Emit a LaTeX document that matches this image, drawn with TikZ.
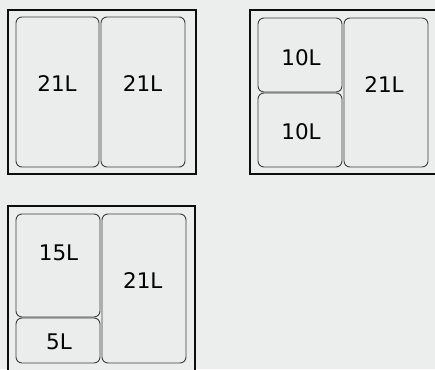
\documentclass[tikz,border=0pt]{standalone}
\usepackage{fontspec}
\setmainfont{DejaVu Sans}
\usepackage{xcolor}
\usetikzlibrary{positioning}

\definecolor{bgcol}{HTML}{ECEEED}
\definecolor{bincol}{HTML}{EBEDEC}
\definecolor{edgecol}{HTML}{3C3C3C}

\begin{document}
\begin{tikzpicture}[ x = 1pt, y = -1pt
                     , frame/.style = { draw = black!95
                                      , line width = 2.6pt
                                      , fill = bgcol }
                     , bin/.style = { draw = edgecol
                                    , line width = 0.9pt
                                    , rounded corners = 6pt
                                    , fill = bincol }
                     , every node/.style = { inner sep = 0pt
                                           , font = \fontsize{21.5}{21.5}\selectfont }
                     ]

  \fill[bgcol] (0,0) rectangle (435,369);
  \useasboundingbox (0,0) rectangle (435,369);
  \clip (0,0) rectangle (435,369);

  % two 21L bins
  \draw[frame] (8,10) rectangle (196,174);
  \draw[bin] (16,17) rectangle (99,167);
  \draw[bin] (101,17) rectangle (185,167);
  \node (a1) at (57,84) {21L};
  \node (a2) at (142.5,84) {21L};

  % 10L + 10L + 21L
  \draw[frame] (250,10) rectangle (445,174);
  \draw[bin] (258,18) rectangle (342,92);
  \draw[bin] (258,93) rectangle (342,167);
  \draw[bin] (344,18) rectangle (428,167);
  \node (b1) at (301,57.5) {10L};
  \node (b2) at (301,131.5) {10L};
  \node (b3) at (384,84.5) {21L};

  % 15L + 5L + 21L
  \draw[frame] (8,206) rectangle (195,380);
  \draw[bin] (16,214) rectangle (100,317);
  \draw[bin] (16,318) rectangle (100,363);
  \draw[bin] (102,214) rectangle (186,363);
  \node (c1) at (58.5,253) {15L};
  \node (c2) at (59,341.5) {5L};
  \node (c3) at (142.8,280.5) {21L};

\end{tikzpicture}
\end{document}
